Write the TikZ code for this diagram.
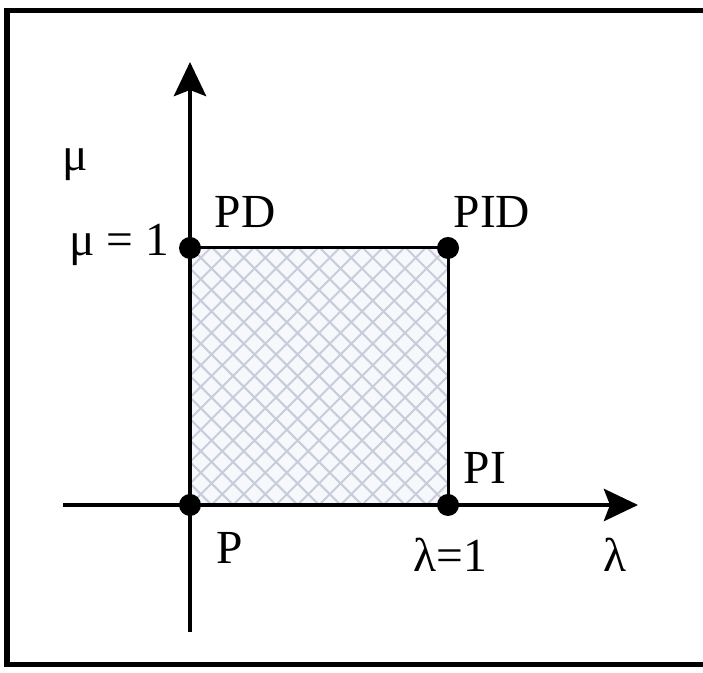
\documentclass[tikz,border=0pt]{standalone}
\usepackage{fontspec}
\setmainfont{Liberation Serif}
\usepackage{tikz}
\usetikzlibrary{arrows.meta,positioning}

\definecolor{hatchgray}{RGB}{200,205,218}
\definecolor{shadefill}{RGB}{246,248,252}

\tikzset{
	axis/.style={line width=2.8pt,-{Stealth[length=0.68cm,width=0.64cm,inset=0.12cm]}},
	corner/.style={circle,fill=black,inner sep=0pt,minimum size=0.44cm},
	lbl/.style={font=\fontsize{27}{30}\selectfont,inner sep=0pt},
	hatch/.style={line width=1.2pt,color=hatchgray}
}

\begin{document}
\begin{tikzpicture}
	
	\useasboundingbox (0,0) rectangle (14.06,13.46);
	\begin{scope}
		\clip (0,0) rectangle (14.06,13.46);
		\draw[line width=0.1cm] (0.14,0.16) rectangle (14.4,13.24);
	\end{scope}
	
	% shaded region
	\fill[shadefill] (3.8,3.36) rectangle (8.96,8.5);
	\begin{scope}
		\clip (3.8,3.36) rectangle (8.96,8.5);
		\foreach \k in {-12,...,12}
		\draw[hatch] (3.8+\k*0.43,3.36) -- ++(5.16,5.16);
		\foreach \k in {0,...,24}
		\draw[hatch] (3.8+\k*0.43,3.36) -- ++(-5.16,5.16);
	\end{scope}
	
	\coordinate (xs) at (1.26,3.36);
	\coordinate (xe) at (12.76,3.36);
	\coordinate (ys) at (3.8,0.82);
	\coordinate (ye) at (3.8,12.22);
	
	\draw[line width=1.7pt] (3.8,3.36) rectangle (8.96,8.5);
	
	\draw[axis] (xs)--(xe);
	\draw[axis] (ys)--(ye);
	
	\node[corner] (P) at (3.8,3.36) {};
	\node[corner] (PD) at (3.8,8.5) {};
	\node[corner] (PID) at (8.96,8.5) {};
	\node[corner] (PI) at (8.96,3.36) {};
	
	\node[lbl] (Plbl) at (4.6,2.5) {P};
	\node[lbl] (PDlbl) at (4.9,9.22) {PD};
	\node[lbl] (PIDlbl) at (9.84,9.22) {PID};
	\node[lbl] (PIlbl) at (9.7,4.1) {PI};
	
	\node[lbl] (mu) at (1.5,10.16) {μ};
	\node[lbl] (muone) at (2.38,8.56) {μ = 1};
	\node[lbl] (lambda) at (12.3,2.36) {λ};
	\node[lbl] (lambdaone) at (9.0,2.36) {λ=1};
	
\end{tikzpicture}
\end{document}
